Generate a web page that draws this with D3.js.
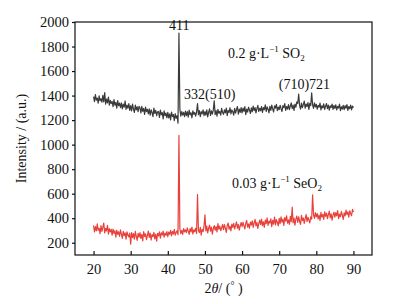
<!DOCTYPE html>
<html>
<head>
<meta charset="utf-8">
<script src="https://cdn.jsdelivr.net/npm/d3@7"></script>
<style>
  body { margin: 0; background: #fff; }
  text { font-family: "Liberation Serif", "Times New Roman", serif; fill: #111; }
</style>
</head>
<body>
<script>
// XRD patterns, 2theta from 20 to 90 step 0.25
const twoTheta = d3.range(0, 281).map(i => 20 + i * 0.25);

const so2Values = [
  1392, 1351, 1408, 1363, 1380, 1339, 1397, 1358, 1374, 1346,
  1401, 1349, 1425, 1330, 1372, 1341, 1388, 1322, 1361, 1335,
  1352, 1309, 1368, 1321, 1345, 1298, 1359, 1317, 1338, 1302,
  1341, 1292, 1330, 1305, 1356, 1288, 1322, 1297, 1335, 1279,
  1318, 1276, 1331, 1290, 1262, 1322, 1284, 1309, 1268, 1312,
  1300, 1258, 1313, 1272, 1295, 1246, 1306, 1269, 1288, 1251,
  1291, 1240, 1284, 1262, 1228, 1297, 1255, 1279, 1236, 1268,
  1270, 1222, 1281, 1243, 1262, 1210, 1275, 1236, 1258, 1219,
  1263, 1218, 1251, 1202, 1266, 1229, 1245, 1196, 1252, 1215,
  1236, 1175, 1910, 1290, 1232, 1270, 1241, 1263, 1228, 1274,
  1237, 1269, 1225, 1281, 1243, 1260, 1219, 1275, 1248, 1262,
  1233, 1266, 1335, 1244, 1278, 1229, 1269, 1251, 1284, 1236,
  1270, 1241, 1283, 1226, 1265, 1292, 1238, 1276, 1249, 1281,
  1358, 1245, 1277, 1233, 1288, 1256, 1271, 1240, 1295, 1262,
  1247, 1284, 1259, 1298, 1236, 1279, 1262, 1301, 1250, 1283,
  1268, 1240, 1296, 1257, 1285, 1311, 1249, 1290, 1263, 1302,
  1258, 1297, 1272, 1310, 1245, 1289, 1266, 1305, 1281, 1254,
  1299, 1268, 1314, 1277, 1302, 1259, 1293, 1320, 1271, 1296,
  1276, 1311, 1263, 1302, 1285, 1325, 1270, 1308, 1289, 1259,
  1312, 1280, 1322, 1291, 1266, 1317, 1298, 1329, 1277, 1306,
  1285, 1321, 1293, 1270, 1318, 1302, 1334, 1279, 1311, 1290,
  1326, 1286, 1315, 1341, 1294, 1322, 1280, 1330, 1305, 1349,
  1335, 1412, 1318, 1290, 1338, 1302, 1326, 1355, 1297, 1331,
  1310, 1343, 1288, 1336, 1318, 1422, 1325, 1296, 1341, 1307,
  1329, 1290, 1320, 1305, 1338, 1284, 1317, 1299, 1332, 1288,
  1313, 1335, 1294, 1322, 1281, 1316, 1303, 1330, 1287, 1319,
  1296, 1325, 1283, 1312, 1298, 1330, 1277, 1309, 1290, 1321,
  1286, 1318, 1297, 1327, 1280, 1311, 1293, 1322, 1284, 1315,
  1300
];

const seo2Values = [
  342, 288, 331, 296, 355, 301, 318, 274, 339, 292,
  326, 361, 280, 318, 296, 342, 271, 315, 288, 309,
  262, 311, 276, 298, 245, 302, 268, 289, 251, 305,
  270, 236, 292, 258, 281, 229, 288, 262, 247, 279,
  188, 283, 241, 275, 230, 292, 252, 219, 276, 245,
  282, 236, 269, 214, 290, 251, 273, 226, 261, 295,
  243, 278, 222, 267, 249, 285, 231, 270, 212, 276,
  255, 289, 238, 281, 263, 295, 246, 278, 260, 291,
  249, 287, 268, 301, 255, 292, 270, 309, 262, 284,
  298, 266, 1075, 312, 275, 301, 268, 316, 289, 305,
  282, 321, 294, 268, 316, 289, 328, 271, 305, 290,
  318, 276, 592, 300, 283, 325, 262, 309, 291, 333,
  428, 297, 336, 281, 318, 344, 295, 327, 270, 314,
  340, 302, 331, 289, 356, 311, 336, 298, 322, 349,
  306, 348, 318, 285, 339, 361, 310, 334, 297, 352,
  325, 358, 312, 341, 370, 318, 349, 302, 337, 365,
  331, 366, 340, 312, 359, 381, 327, 353, 318, 369,
  344, 379, 325, 362, 390, 338, 366, 317, 355, 384,
  348, 392, 339, 371, 326, 385, 356, 402, 341, 377,
  360, 395, 331, 383, 352, 410, 346, 389, 365, 337,
  398, 355, 412, 368, 392, 341, 405, 376, 420, 359,
  387, 349, 415, 371, 490, 362, 401, 344, 392, 418,
  366, 412, 375, 350, 423, 381, 402, 358, 397, 429,
  372, 408, 385, 361, 412, 392, 590, 430, 398, 446,
  411, 438, 395, 426, 382, 447, 409, 431, 390, 452,
  415, 441, 396, 429, 458, 403, 436, 385, 425, 449,
  408, 446, 419, 462, 397, 433, 412, 455, 426, 391,
  444, 418, 467, 429, 452, 408, 461, 437, 420, 472,
  450
];

const xTicks = [20, 30, 40, 50, 60, 70, 80, 90];
const yTicks = [200, 400, 600, 800, 1000, 1200, 1400, 1600, 1800, 2000];

// peak labels: [2theta, intensity, text]
const peakLabels = [
  [43.1, 1935, '411'],
  [51.3, 1375, '332(510)'],
  [76.8, 1455, '(710)721']
];

const width = 404, height = 304;
const margin = {top: 22, right: 32, bottom: 49, left: 75};

const x = d3.scaleLinear().domain([15, 95]).range([margin.left, width - margin.right]);
const y = d3.scaleLinear().domain([100, 2000]).range([height - margin.bottom, margin.top]);

const svg = d3.select('body').append('svg')
    .attr('width', width)
    .attr('height', height);

const line = d3.line()
    .x((d, i) => x(twoTheta[i]))
    .y(d => y(d));

svg.append('path')
    .datum(so2Values)
    .attr('fill', 'none')
    .attr('stroke', '#3a3a3a')
    .attr('stroke-width', 1.2)
    .attr('stroke-linejoin', 'round')
    .attr('d', line);

svg.append('path')
    .datum(seo2Values)
    .attr('fill', 'none')
    .attr('stroke', '#e8403a')
    .attr('stroke-width', 1.2)
    .attr('stroke-linejoin', 'round')
    .attr('d', line);

// frame
svg.append('rect')
    .attr('x', margin.left)
    .attr('y', margin.top)
    .attr('width', width - margin.left - margin.right)
    .attr('height', height - margin.top - margin.bottom)
    .attr('fill', 'none')
    .attr('stroke', '#111')
    .attr('stroke-width', 1.2);

// x axis: ticks point inward
const xAxis = svg.append('g')
    .attr('transform', `translate(0,${height - margin.bottom})`)
    .call(d3.axisBottom(x).tickValues(xTicks).tickSize(-4).tickPadding(9));
xAxis.select('.domain').remove();
xAxis.selectAll('.tick line').attr('stroke', '#111').attr('stroke-width', 1.2);
xAxis.selectAll('text').style('font-size', '14.5px').attr('fill', '#111').attr('font-family', 'Liberation Serif');

// y axis: ticks point outward
const yAxis = svg.append('g')
    .attr('transform', `translate(${margin.left},0)`)
    .call(d3.axisLeft(y).tickValues(yTicks).tickFormat(d3.format('d')).tickSize(3).tickPadding(3));
yAxis.select('.domain').remove();
yAxis.selectAll('.tick line').attr('stroke', '#111').attr('stroke-width', 1.2);
yAxis.selectAll('text').style('font-size', '14.5px').attr('fill', '#111').attr('font-family', 'Liberation Serif');

// axis titles
svg.append('text')
    .attr('transform', `translate(26,${(margin.top + height - margin.bottom) / 2}) rotate(-90)`)
    .attr('text-anchor', 'middle')
    .style('font-size', '14px')
    .text('Intensity / (a.u.)');

const xt = svg.append('text')
    .attr('x', (margin.left + width - margin.right) / 2)
    .attr('y', 293)
    .attr('text-anchor', 'middle')
    .style('font-size', '14px');
xt.append('tspan').text('2');
xt.append('tspan').style('font-style', 'italic').text('θ');
xt.append('tspan').text('/ (');
xt.append('tspan').attr('dy', -4).style('font-size', '10px').text('°');
xt.append('tspan').attr('dy', 4).text(' )');

// peak labels
svg.selectAll('.peak')
    .data(peakLabels)
    .enter().append('text')
    .attr('class', 'peak')
    .attr('x', d => x(d[0]))
    .attr('y', d => y(d[1]))
    .attr('text-anchor', 'middle')
    .style('font-size', '14px')
    .text(d => d[2]);

// series labels
function concLabel(xv, yv, num, species, sub) {
  const t = svg.append('text')
      .attr('x', x(xv))
      .attr('y', y(yv))
      .style('font-size', '14px');
  t.append('tspan').text(num + ' g·L');
  t.append('tspan').attr('dy', -6).style('font-size', '9px').text('−1');
  t.append('tspan').attr('dy', 6).text(' ' + species);
  t.append('tspan').attr('dy', 3).style('font-size', '9px').text(sub);
}
concLabel(56.2, 1710, '0.2', 'SO', '2');
concLabel(57.3, 650, '0.03', 'SeO', '2');
</script>
</body>
</html>
